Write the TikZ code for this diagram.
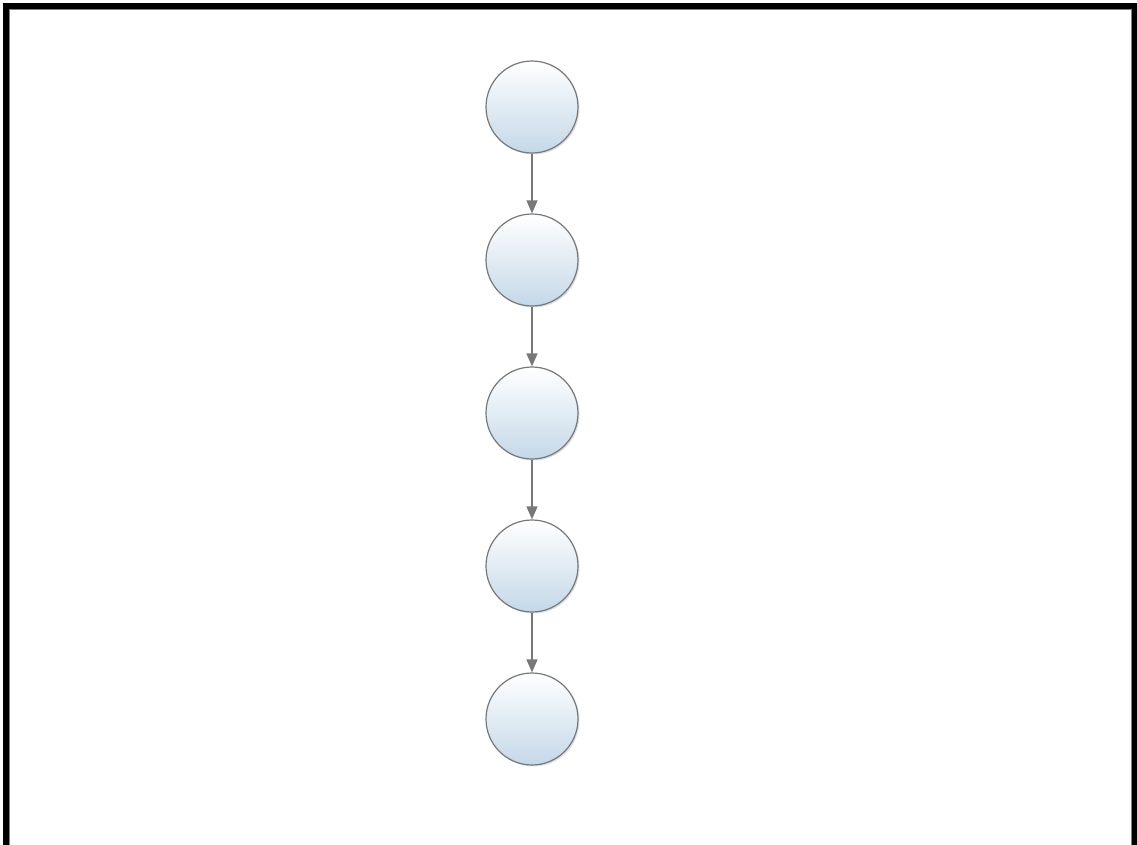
\documentclass[tikz,border=0pt]{standalone}
\usetikzlibrary{arrows.meta, positioning, shadows}
\definecolor{nodeblue}{RGB}{196,216,232}
\definecolor{linegray}{RGB}{120,120,120}

\begin{document}
\begin{tikzpicture}[
    x=1pt, y=-1pt,
    state/.style={circle, draw=linegray, line width=1.2pt, minimum size=92pt,
      inner sep=0pt, top color=white, bottom color=nodeblue,
      drop shadow={shadow xshift=1.5pt, shadow yshift=-1.5pt, opacity=0.25}},
    flow/.style={draw=linegray, line width=1.3pt,
      -{Triangle[length=13pt, width=11pt]}}
  ]
    \useasboundingbox (0,0) rectangle (1137,845);
    % frame
    \draw[black, line width=6pt] (5.5,845) -- (5.5,6.5) -- (1135,6.5) -- (1135,845);
    \draw[gray, line width=1pt] (9,845) -- (9,10) -- (1131.5,10) -- (1131.5,845);
    % states
    \node[state] (s1) at (532,107) {};
    \node[state, below=59.8pt of s1] (s2) {};
    \node[state, below=59.8pt of s2] (s3) {};
    \node[state, below=59.8pt of s3] (s4) {};
    \node[state, below=59.8pt of s4] (s5) {};
    % transitions
    \foreach \a/\b in {s1/s2, s2/s3, s3/s4, s4/s5}
      \path[flow] (\a) -- (\b);
  \end{tikzpicture}
\end{document}
